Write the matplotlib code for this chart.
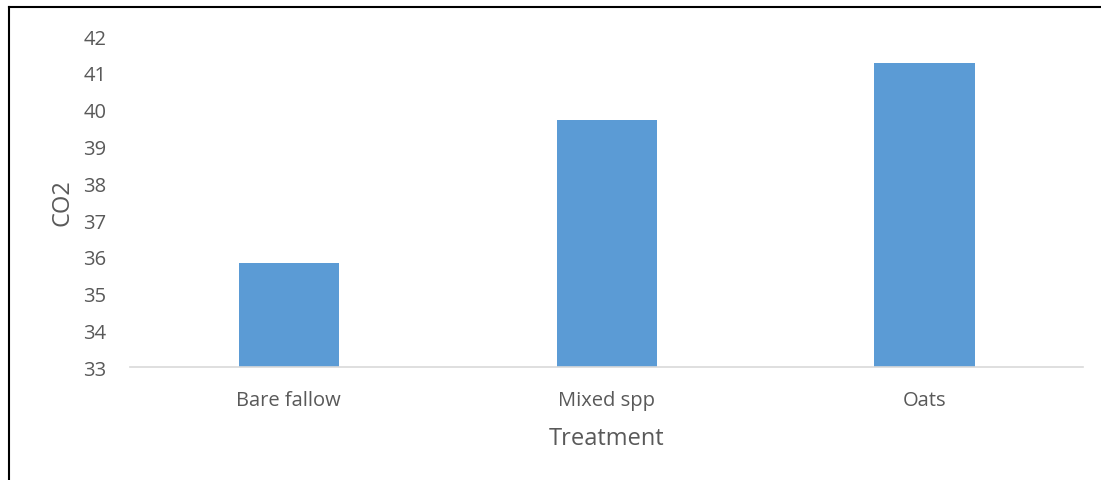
import matplotlib
matplotlib.use("Agg")
from matplotlib import pyplot as plt
from matplotlib.lines import Line2D

categories = ["Bare fallow", "Mixed spp", "Oats"]
co2 = [35.83, 39.72, 41.26]
yticks = [33, 34, 35, 36, 37, 38, 39, 40, 41, 42]

plt.rcParams['font.family'] = ['Open Sans', 'DejaVu Sans']
grey = '#595959'

fig = plt.figure(figsize=(11.01, 4.81), dpi=100)
ax = fig.add_axes([0.118, 0.234, 0.866, 0.689])

ax.bar(range(len(categories)), co2, width=0.315, color='#5b9bd5', bottom=0)
ax.set_xlim(-0.5, len(categories) - 0.5)
ax.set_ylim(33, 42)
ax.set_yticks(yticks)
ax.set_xticks(range(len(categories)))
ax.set_xticklabels(categories)
ax.tick_params(length=0, labelsize=14.5, colors=grey)
ax.tick_params(axis='y', pad=17)
ax.tick_params(axis='x', pad=16)

for s in ['top', 'right', 'left']:
    ax.spines[s].set_visible(False)
ax.spines['bottom'].set_color('#d9d9d9')
ax.spines['bottom'].set_linewidth(1.2)

ax.set_xlabel("Treatment", fontsize=17, color=grey, labelpad=12)
ax.set_ylabel("CO2", fontsize=17, color=grey, labelpad=6)

# outer frame (only left and top edges visible in the crop)
fig.add_artist(Line2D([9/1101, 9/1101], [0, 1 - 8/481], transform=fig.transFigure, color='black', lw=1.5))
fig.add_artist(Line2D([9/1101, 1], [1 - 8/481, 1 - 8/481], transform=fig.transFigure, color='black', lw=1.5))

fig.savefig("out.png", dpi=100)
plt.close()
